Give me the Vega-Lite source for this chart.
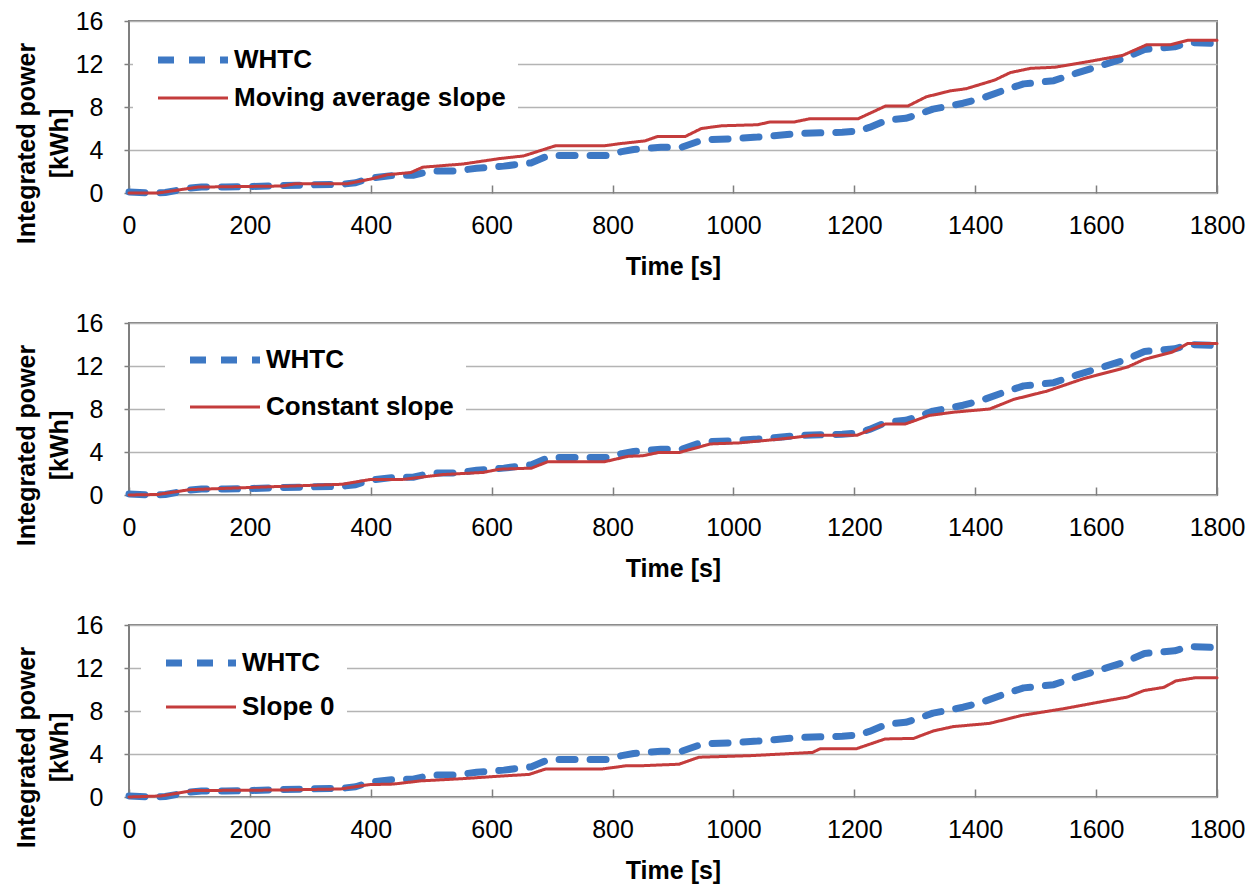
{
  "$schema": "https://vega.github.io/schema/vega-lite/v6.json",
  "padding": {"left": 13, "top": 8, "right": 0, "bottom": 0},
  "spacing": 30,
  "config": {
    "font": "Liberation Sans",
    "view": {"stroke": "#7f7f7f", "strokeWidth": 2},
    "axis": {
      "labelFont": "Liberation Sans", "labelFontSize": 25, "labelColor": "#000000",
      "titleFont": "Liberation Sans", "titleFontSize": 25, "titleFontWeight": "bold", "titleColor": "#000000",
      "domain": false, "tickColor": "#7f7f7f", "tickWidth": 1.5,
      "gridColor": "#b4b4b4", "gridWidth": 1.5, "labelFlush": false
    },
    "axisX": {"grid": false, "tickSize": -8, "labelPadding": 28, "titleY": 73, "titleBaseline": "middle"},
    "axisY": {"grid": true, "tickSize": 5, "labelPadding": 21, "titleAngle": 270, "titleX": -103, "titleY": 122, "titleBaseline": "middle", "titleAlign": "center", "titleLineHeight": 33},
    "legend": {
      "orient": "none", "padding": 12, "fillColor": "#ffffff",
      "labelFont": "Liberation Sans", "labelFontSize": 26, "labelFontWeight": "bold", "labelColor": "#000000", "labelLimit": 600,
      "symbolType": "M0,0H10", "symbolSize": 196, "labelOffset": 63
    },
    "line": {"strokeCap": "round", "strokeJoin": "round"}
  },
  "datasets": {
    "whtc": [
      {"t": 0, "v": 0.1, "s": "WHTC"}, {"t": 40, "v": 0.0, "s": "WHTC"}, {"t": 60, "v": 0.05, "s": "WHTC"},
      {"t": 100, "v": 0.45, "s": "WHTC"}, {"t": 120, "v": 0.55, "s": "WHTC"}, {"t": 160, "v": 0.55, "s": "WHTC"},
      {"t": 200, "v": 0.6, "s": "WHTC"}, {"t": 250, "v": 0.7, "s": "WHTC"}, {"t": 300, "v": 0.75, "s": "WHTC"},
      {"t": 350, "v": 0.8, "s": "WHTC"}, {"t": 375, "v": 0.95, "s": "WHTC"}, {"t": 400, "v": 1.4, "s": "WHTC"},
      {"t": 440, "v": 1.65, "s": "WHTC"}, {"t": 470, "v": 1.65, "s": "WHTC"}, {"t": 500, "v": 2.05, "s": "WHTC"},
      {"t": 540, "v": 2.05, "s": "WHTC"}, {"t": 575, "v": 2.3, "s": "WHTC"}, {"t": 620, "v": 2.5, "s": "WHTC"},
      {"t": 665, "v": 2.8, "s": "WHTC"}, {"t": 695, "v": 3.5, "s": "WHTC"}, {"t": 790, "v": 3.5, "s": "WHTC"},
      {"t": 815, "v": 3.85, "s": "WHTC"}, {"t": 835, "v": 4.05, "s": "WHTC"}, {"t": 880, "v": 4.25, "s": "WHTC"},
      {"t": 914, "v": 4.25, "s": "WHTC"}, {"t": 950, "v": 4.95, "s": "WHTC"}, {"t": 1000, "v": 5.05, "s": "WHTC"},
      {"t": 1040, "v": 5.2, "s": "WHTC"}, {"t": 1080, "v": 5.4, "s": "WHTC"}, {"t": 1110, "v": 5.55, "s": "WHTC"},
      {"t": 1180, "v": 5.65, "s": "WHTC"}, {"t": 1205, "v": 5.75, "s": "WHTC"}, {"t": 1225, "v": 6.1, "s": "WHTC"},
      {"t": 1255, "v": 6.8, "s": "WHTC"}, {"t": 1285, "v": 6.95, "s": "WHTC"}, {"t": 1300, "v": 7.2, "s": "WHTC"},
      {"t": 1330, "v": 7.8, "s": "WHTC"}, {"t": 1380, "v": 8.35, "s": "WHTC"}, {"t": 1410, "v": 8.8, "s": "WHTC"},
      {"t": 1450, "v": 9.6, "s": "WHTC"}, {"t": 1480, "v": 10.15, "s": "WHTC"}, {"t": 1530, "v": 10.45, "s": "WHTC"},
      {"t": 1570, "v": 11.2, "s": "WHTC"}, {"t": 1605, "v": 11.8, "s": "WHTC"}, {"t": 1645, "v": 12.5, "s": "WHTC"},
      {"t": 1680, "v": 13.35, "s": "WHTC"}, {"t": 1730, "v": 13.6, "s": "WHTC"}, {"t": 1755, "v": 14.0, "s": "WHTC"},
      {"t": 1800, "v": 13.9, "s": "WHTC"}
    ],
    "mas": [
      {"t": 0, "v": 0, "s": "Moving average slope"}, {"t": 48, "v": 0, "s": "Moving average slope"},
      {"t": 114, "v": 0.55, "s": "Moving average slope"}, {"t": 254, "v": 0.65, "s": "Moving average slope"},
      {"t": 274, "v": 0.85, "s": "Moving average slope"}, {"t": 360, "v": 0.85, "s": "Moving average slope"},
      {"t": 400, "v": 1.3, "s": "Moving average slope"}, {"t": 427, "v": 1.7, "s": "Moving average slope"},
      {"t": 466, "v": 1.9, "s": "Moving average slope"}, {"t": 486, "v": 2.4, "s": "Moving average slope"},
      {"t": 553, "v": 2.7, "s": "Moving average slope"}, {"t": 613, "v": 3.2, "s": "Moving average slope"},
      {"t": 653, "v": 3.45, "s": "Moving average slope"}, {"t": 706, "v": 4.4, "s": "Moving average slope"},
      {"t": 787, "v": 4.4, "s": "Moving average slope"}, {"t": 814, "v": 4.6, "s": "Moving average slope"},
      {"t": 854, "v": 4.85, "s": "Moving average slope"}, {"t": 874, "v": 5.25, "s": "Moving average slope"},
      {"t": 920, "v": 5.25, "s": "Moving average slope"}, {"t": 947, "v": 6.0, "s": "Moving average slope"},
      {"t": 980, "v": 6.25, "s": "Moving average slope"}, {"t": 1040, "v": 6.35, "s": "Moving average slope"},
      {"t": 1060, "v": 6.6, "s": "Moving average slope"}, {"t": 1100, "v": 6.6, "s": "Moving average slope"},
      {"t": 1126, "v": 6.9, "s": "Moving average slope"}, {"t": 1206, "v": 6.9, "s": "Moving average slope"},
      {"t": 1252, "v": 8.1, "s": "Moving average slope"}, {"t": 1289, "v": 8.1, "s": "Moving average slope"},
      {"t": 1319, "v": 8.95, "s": "Moving average slope"}, {"t": 1359, "v": 9.5, "s": "Moving average slope"},
      {"t": 1385, "v": 9.7, "s": "Moving average slope"}, {"t": 1432, "v": 10.5, "s": "Moving average slope"},
      {"t": 1458, "v": 11.2, "s": "Moving average slope"}, {"t": 1492, "v": 11.6, "s": "Moving average slope"},
      {"t": 1532, "v": 11.7, "s": "Moving average slope"}, {"t": 1585, "v": 12.2, "s": "Moving average slope"},
      {"t": 1644, "v": 12.8, "s": "Moving average slope"}, {"t": 1684, "v": 13.8, "s": "Moving average slope"},
      {"t": 1724, "v": 13.8, "s": "Moving average slope"}, {"t": 1751, "v": 14.2, "s": "Moving average slope"},
      {"t": 1800, "v": 14.2, "s": "Moving average slope"}
    ],
    "cs": [
      {"t": 0, "v": 0, "s": "Constant slope"}, {"t": 48, "v": 0.05, "s": "Constant slope"},
      {"t": 101, "v": 0.5, "s": "Constant slope"}, {"t": 200, "v": 0.7, "s": "Constant slope"},
      {"t": 353, "v": 1.0, "s": "Constant slope"}, {"t": 400, "v": 1.45, "s": "Constant slope"},
      {"t": 453, "v": 1.45, "s": "Constant slope"}, {"t": 519, "v": 1.9, "s": "Constant slope"},
      {"t": 586, "v": 2.1, "s": "Constant slope"}, {"t": 613, "v": 2.4, "s": "Constant slope"},
      {"t": 666, "v": 2.5, "s": "Constant slope"}, {"t": 693, "v": 3.1, "s": "Constant slope"},
      {"t": 787, "v": 3.1, "s": "Constant slope"}, {"t": 826, "v": 3.6, "s": "Constant slope"},
      {"t": 850, "v": 3.65, "s": "Constant slope"}, {"t": 876, "v": 3.95, "s": "Constant slope"},
      {"t": 910, "v": 3.95, "s": "Constant slope"}, {"t": 962, "v": 4.75, "s": "Constant slope"},
      {"t": 1010, "v": 4.85, "s": "Constant slope"}, {"t": 1077, "v": 5.2, "s": "Constant slope"},
      {"t": 1131, "v": 5.55, "s": "Constant slope"}, {"t": 1204, "v": 5.55, "s": "Constant slope"},
      {"t": 1251, "v": 6.6, "s": "Constant slope"}, {"t": 1284, "v": 6.6, "s": "Constant slope"},
      {"t": 1324, "v": 7.4, "s": "Constant slope"}, {"t": 1364, "v": 7.7, "s": "Constant slope"},
      {"t": 1424, "v": 8.0, "s": "Constant slope"}, {"t": 1464, "v": 8.9, "s": "Constant slope"},
      {"t": 1518, "v": 9.65, "s": "Constant slope"}, {"t": 1578, "v": 10.8, "s": "Constant slope"},
      {"t": 1652, "v": 11.9, "s": "Constant slope"}, {"t": 1679, "v": 12.6, "s": "Constant slope"},
      {"t": 1726, "v": 13.3, "s": "Constant slope"}, {"t": 1752, "v": 14.1, "s": "Constant slope"},
      {"t": 1800, "v": 14.1, "s": "Constant slope"}
    ],
    "s0": [
      {"t": 0, "v": 0, "s": "Slope 0"}, {"t": 53, "v": 0.1, "s": "Slope 0"},
      {"t": 106, "v": 0.6, "s": "Slope 0"}, {"t": 252, "v": 0.65, "s": "Slope 0"},
      {"t": 351, "v": 0.75, "s": "Slope 0"}, {"t": 397, "v": 1.15, "s": "Slope 0"},
      {"t": 437, "v": 1.2, "s": "Slope 0"}, {"t": 483, "v": 1.5, "s": "Slope 0"},
      {"t": 550, "v": 1.7, "s": "Slope 0"}, {"t": 616, "v": 1.95, "s": "Slope 0"},
      {"t": 662, "v": 2.1, "s": "Slope 0"}, {"t": 689, "v": 2.6, "s": "Slope 0"},
      {"t": 782, "v": 2.6, "s": "Slope 0"}, {"t": 822, "v": 2.9, "s": "Slope 0"},
      {"t": 844, "v": 2.9, "s": "Slope 0"}, {"t": 910, "v": 3.05, "s": "Slope 0"},
      {"t": 943, "v": 3.7, "s": "Slope 0"}, {"t": 1030, "v": 3.85, "s": "Slope 0"},
      {"t": 1131, "v": 4.15, "s": "Slope 0"}, {"t": 1144, "v": 4.5, "s": "Slope 0"},
      {"t": 1204, "v": 4.5, "s": "Slope 0"}, {"t": 1251, "v": 5.4, "s": "Slope 0"},
      {"t": 1298, "v": 5.45, "s": "Slope 0"}, {"t": 1331, "v": 6.15, "s": "Slope 0"},
      {"t": 1364, "v": 6.55, "s": "Slope 0"}, {"t": 1424, "v": 6.85, "s": "Slope 0"},
      {"t": 1478, "v": 7.6, "s": "Slope 0"}, {"t": 1545, "v": 8.2, "s": "Slope 0"},
      {"t": 1612, "v": 8.9, "s": "Slope 0"}, {"t": 1652, "v": 9.3, "s": "Slope 0"},
      {"t": 1679, "v": 9.9, "s": "Slope 0"}, {"t": 1712, "v": 10.2, "s": "Slope 0"},
      {"t": 1732, "v": 10.8, "s": "Slope 0"}, {"t": 1765, "v": 11.1, "s": "Slope 0"},
      {"t": 1800, "v": 11.1, "s": "Slope 0"}
    ]
  },
  "resolve": {"scale": {"color": "independent", "strokeDash": "independent", "strokeWidth": "independent"}},
  "vconcat": [
    {
      "width": 1088, "height": 172,
      "encoding": {
        "x": {"field": "t", "type": "quantitative", "scale": {"domain": [0, 1800], "nice": false}, "axis": {"values": [0, 200, 400, 600, 800, 1000, 1200, 1400, 1600, 1800], "format": "d", "title": "Time [s]"}},
        "y": {"field": "v", "type": "quantitative", "scale": {"domain": [0, 16], "nice": false}, "axis": {"values": [0, 4, 8, 12, 16], "title": ["Integrated power", "[kWh]"]}},
        "color": {"field": "s", "type": "nominal", "scale": {"domain": ["WHTC", "Moving average slope"], "range": ["#3d78c4", "#c43c3c"]}, "legend": {"title": null, "legendX": 4, "legendY": 14, "rowPadding": 12, "encode": {"symbols": {"update": {"strokeCap": {"value": "round"}}}}}},
        "strokeDash": {"field": "s", "type": "nominal", "scale": {"domain": ["WHTC", "Moving average slope"], "range": [[16, 15], [1, 0]]}, "legend": {"title": null, "legendX": 4, "legendY": 14, "rowPadding": 12}},
        "strokeWidth": {"field": "s", "type": "nominal", "scale": {"domain": ["WHTC", "Moving average slope"], "range": [7, 3]}, "legend": {"title": null, "legendX": 4, "legendY": 14, "rowPadding": 12}}
      },
      "layer": [
        {"data": {"name": "whtc"}, "mark": {"type": "line"}},
        {"data": {"name": "mas"}, "mark": {"type": "line"}}
      ]
    },
    {
      "width": 1088, "height": 172,
      "encoding": {
        "x": {"field": "t", "type": "quantitative", "scale": {"domain": [0, 1800], "nice": false}, "axis": {"values": [0, 200, 400, 600, 800, 1000, 1200, 1400, 1600, 1800], "format": "d", "title": "Time [s]"}},
        "y": {"field": "v", "type": "quantitative", "scale": {"domain": [0, 16], "nice": false}, "axis": {"values": [0, 4, 8, 12, 16], "title": ["Integrated power", "[kWh]"]}},
        "color": {"field": "s", "type": "nominal", "scale": {"domain": ["WHTC", "Constant slope"], "range": ["#3d78c4", "#c43c3c"]}, "legend": {"title": null, "legendX": 36, "legendY": 12, "rowPadding": 21, "encode": {"symbols": {"update": {"strokeCap": {"value": "round"}}}}}},
        "strokeDash": {"field": "s", "type": "nominal", "scale": {"domain": ["WHTC", "Constant slope"], "range": [[16, 15], [1, 0]]}, "legend": {"title": null, "legendX": 36, "legendY": 12, "rowPadding": 21}},
        "strokeWidth": {"field": "s", "type": "nominal", "scale": {"domain": ["WHTC", "Constant slope"], "range": [7, 3]}, "legend": {"title": null, "legendX": 36, "legendY": 12, "rowPadding": 21}}
      },
      "layer": [
        {"data": {"name": "whtc"}, "mark": {"type": "line"}},
        {"data": {"name": "cs"}, "mark": {"type": "line"}}
      ]
    },
    {
      "width": 1088, "height": 172,
      "encoding": {
        "x": {"field": "t", "type": "quantitative", "scale": {"domain": [0, 1800], "nice": false}, "axis": {"values": [0, 200, 400, 600, 800, 1000, 1200, 1400, 1600, 1800], "format": "d", "title": "Time [s]"}},
        "y": {"field": "v", "type": "quantitative", "scale": {"domain": [0, 16], "nice": false}, "axis": {"values": [0, 4, 8, 12, 16], "title": ["Integrated power", "[kWh]"]}},
        "color": {"field": "s", "type": "nominal", "scale": {"domain": ["WHTC", "Slope 0"], "range": ["#3d78c4", "#c43c3c"]}, "legend": {"title": null, "legendX": 12, "legendY": 13, "rowPadding": 18, "encode": {"symbols": {"update": {"strokeCap": {"value": "round"}}}}}},
        "strokeDash": {"field": "s", "type": "nominal", "scale": {"domain": ["WHTC", "Slope 0"], "range": [[16, 15], [1, 0]]}, "legend": {"title": null, "legendX": 12, "legendY": 13, "rowPadding": 18}},
        "strokeWidth": {"field": "s", "type": "nominal", "scale": {"domain": ["WHTC", "Slope 0"], "range": [7, 3]}, "legend": {"title": null, "legendX": 12, "legendY": 13, "rowPadding": 18}}
      },
      "layer": [
        {"data": {"name": "whtc"}, "mark": {"type": "line"}},
        {"data": {"name": "s0"}, "mark": {"type": "line"}}
      ]
    }
  ]
}
